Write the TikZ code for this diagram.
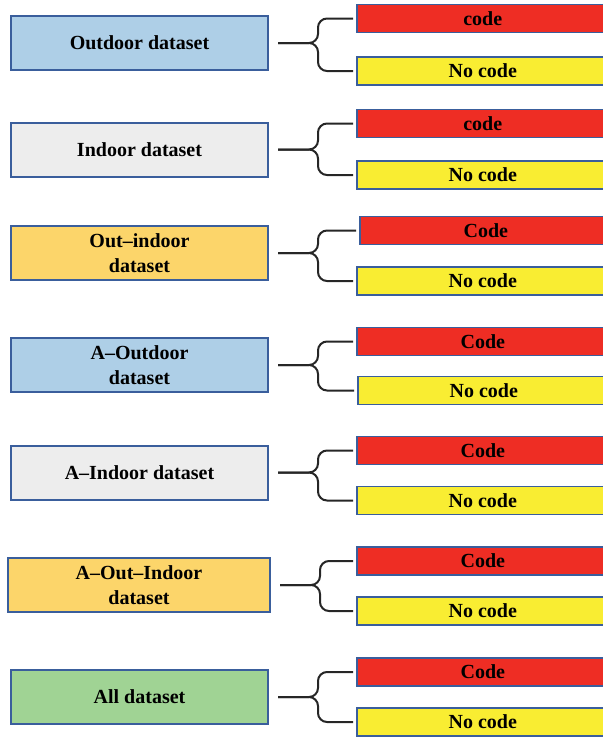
\documentclass[tikz,border=0pt]{standalone}
\usepackage{fontspec}
\setmainfont{Liberation Serif}
\usetikzlibrary{positioning}
\definecolor{edgeblue}{RGB}{58,94,156}
\definecolor{skyfill}{RGB}{174,207,231}
\definecolor{greyfill}{RGB}{237,237,237}
\definecolor{orangefill}{RGB}{252,213,106}
\definecolor{greenfill}{RGB}{160,211,148}
\definecolor{codered}{RGB}{238,45,36}
\definecolor{codeyellow}{RGB}{249,237,50}
\tikzset{
        boxnode/.style={align=center, inner sep=0pt, draw=edgeblue, font=\bfseries\fontsize{20}{25}\selectfont},
        % Datasets
        node_set/.style={boxnode, line width=2pt, minimum width=257pt, minimum height=54pt},
        % Code / no code
        node_code/.style={boxnode, line width=1.6pt, fill=codered, anchor=west, minimum width=252pt, minimum height=28pt},
        node_nocode/.style={boxnode, line width=1.6pt, fill=codeyellow, anchor=west, minimum width=252pt, minimum height=28pt},
        % Braces
        brace/.style={draw=black!85, line width=2pt, rounded corners=9pt}
}
\begin{document}
\begin{tikzpicture}[x=1pt, y=-1pt]
    \useasboundingbox (0,0) rectangle (603,737);
    % Outdoor
    \node[node_set, fill=skyfill] (set1) at (139.5,43) {Outdoor dataset};
    \node[node_code] (code1) at (356,18.5) {code};
    \node[node_nocode] (nocode1) at (356,71) {No code};
    % Indoor
    \node[node_set, fill=greyfill] (set2) at (139.5,149.5) {Indoor dataset};
    \node[node_code] (code2) at (356,123.5) {code};
    \node[node_nocode] (nocode2) at (356,175) {No code};
    % Out-indoor
    \node[node_set, fill=orangefill] (set3) at (139.5,253) {Out--indoor\\dataset};
    \node[node_code] (code3) at (359,230.5) {Code};
    \node[node_nocode] (nocode3) at (356,281) {No code};
    % A-Outdoor
    \node[node_set, fill=skyfill] (set4) at (139.5,365) {A--Outdoor\\dataset};
    \node[node_code] (code4) at (356,341.5) {Code};
    \node[node_nocode] (nocode4) at (357,390.5) {No code};
    % A-Indoor
    \node[node_set, fill=greyfill] (set5) at (139.5,472.5) {A--Indoor dataset};
    \node[node_code] (code5) at (356,450.5) {Code};
    \node[node_nocode] (nocode5) at (356,500.5) {No code};
    % A-Out-Indoor
    \node[node_set, fill=orangefill, minimum width=262pt] (set6) at (139,585) {A--Out--Indoor\\dataset};
    \node[node_code] (code6) at (356,561) {Code};
    \node[node_nocode] (nocode6) at (356,611) {No code};
    % All
    \node[node_set, fill=greenfill] (set7) at (139.5,697) {All dataset};
    \node[node_code] (code7) at (356,672) {Code};
    \node[node_nocode] (nocode7) at (356,722) {No code};

    \foreach \i in {1,...,7} {
        \draw[brace] ([xshift=9pt]set\i.east) -- ++(40,0) |- ([xshift=-3pt]code\i.west);
        \draw[brace] ([xshift=9pt]set\i.east) -- ++(40,0) |- ([xshift=-3pt]nocode\i.west);
    }
\end{tikzpicture}
\end{document}
